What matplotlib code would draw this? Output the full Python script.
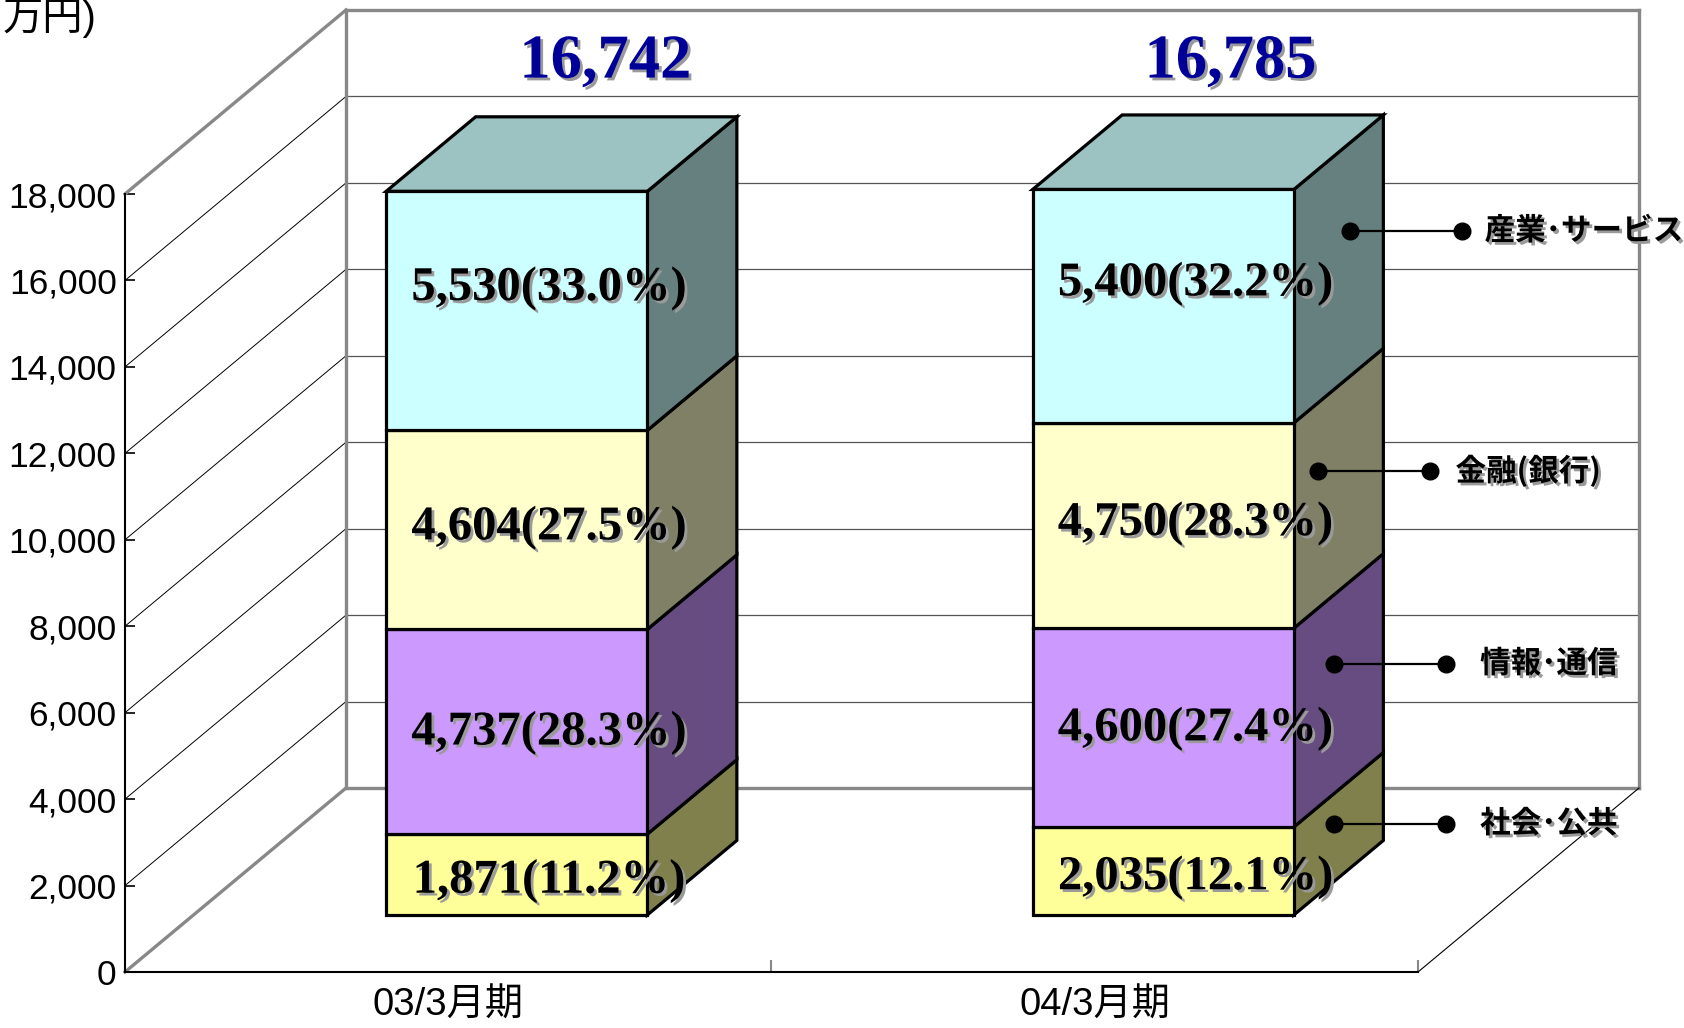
import matplotlib
matplotlib.use('Agg')
import matplotlib.pyplot as plt
import matplotlib.patheffects as pe
from matplotlib.patches import Polygon
from matplotlib import font_manager as fm
from matplotlib.ticker import FuncFormatter

# ---------------- data ----------------
categories = ['03/3月期', '04/3月期']
legend_labels = ['社会･公共', '情報･通信', '金融(銀行)', '産業･サービス']
shakai = [1871, 2035]
joho = [4737, 4600]
kinyu = [4604, 4750]
sangyo = [5530, 5400]
shakai_pct = [11.2, 12.1]
joho_pct = [28.3, 27.4]
kinyu_pct = [27.5, 28.3]
sangyo_pct = [33.0, 32.2]
totals = [16742, 16785]
y_ticks = [0, 2000, 4000, 6000, 8000, 10000, 12000, 14000, 16000, 18000]
unit_label = '万円)'

series = [shakai, joho, kinyu, sangyo]
pcts = [shakai_pct, joho_pct, kinyu_pct, sangyo_pct]

# ---------------- style ----------------
front_colors = ['#FFFF99', '#CC99FF', '#FFFFCC', '#CCFFFF']
side_colors = ['#80804C', '#664C80', '#808066', '#668080']
top_color = '#9CC2C2'


def has_font(name):
    try:
        fm.findfont(fm.FontProperties(family=name), fallback_to_default=False)
        return True
    except Exception:
        return False


if has_font('Liberation Sans Narrow'):
    narrow, tick_size, cat_size = 'Liberation Sans Narrow', 29, 29
else:
    narrow, tick_size, cat_size = 'Liberation Sans', 25.5, 27.5
cjk = 'Noto Sans CJK JP'
serif = 'Liberation Serif'

W, H = 1684, 1028
fig = plt.figure(figsize=(W / 100, H / 100), dpi=100)
fig.patch.set_facecolor('white')

# front plane of the 3D box in pixel coordinates
px_left, px_right, px_top, px_bot = 125, 1418, 194, 972
ax = fig.add_axes([px_left / W, 1 - px_bot / H, (px_right - px_left) / W, (px_bot - px_top) / H])
ax.set_xlim(0, 2)
ax.set_ylim(0, 18000)
ax.set_facecolor('none')

px_per_x = (px_right - px_left) / 2.0
px_per_v = (px_bot - px_top) / 18000.0
DX = 221 / px_per_x       # full depth offset in x units
DY = 184 / px_per_v       # full depth offset in value units
D1, D2 = 0.31, 0.715      # bar front / back depth fractions
BW = 0.404                # bar width in category units

gray = '#888888'
kw = dict(clip_on=False)

# walls: gridlines on back wall and left wall
for v in y_ticks[1:-1]:
    ax.plot([DX, 2 + DX], [v + DY, v + DY], color='#555555', lw=0.9, zorder=1, **kw)
    ax.plot([0, DX], [v, v + DY], color='black', lw=0.7, zorder=1, **kw)
# frame
ax.plot([DX, DX], [DY, 18000 + DY], color=gray, lw=2.4, zorder=2, **kw)
ax.plot([2 + DX, 2 + DX], [DY, 18000 + DY], color=gray, lw=2.4, zorder=2, **kw)
ax.plot([DX, 2 + DX], [18000 + DY, 18000 + DY], color=gray, lw=2.4, zorder=2, **kw)
ax.plot([0, DX], [18000, 18000 + DY], color=gray, lw=2.4, zorder=2, **kw)
ax.plot([0, DX], [0, DY], color=gray, lw=2.4, zorder=2, **kw)
ax.plot([DX, 2 + DX], [DY, DY], color=gray, lw=2.4, zorder=2, **kw)
ax.plot([2, 2 + DX], [0, DY], color='black', lw=0.8, zorder=2, **kw)

# axes spines / ticks
for s in ['top', 'right']:
    ax.spines[s].set_visible(False)
for s in ['left', 'bottom']:
    ax.spines[s].set_color('black')
    ax.spines[s].set_linewidth(1.5)
ax.set_yticks(y_ticks)
ax.yaxis.set_major_formatter(FuncFormatter(lambda v, p: f'{int(v):,}'))
ax.tick_params(axis='y', direction='in', length=7, width=1.2, pad=6,
               labelsize=tick_size)
for lab in ax.get_yticklabels():
    lab.set_fontfamily([narrow, cjk])
ax.set_xticks([0.5, 1.5])
ax.set_xticklabels(categories, fontsize=cat_size, fontfamily=[narrow, cjk])
ax.tick_params(axis='x', which='major', length=0, pad=11)
ax.set_xticks([1, 2], minor=True)
ax.tick_params(axis='x', which='minor', direction='in', length=9, width=1.5, color=gray)

shadow = [pe.withSimplePatchShadow(offset=(2, -2), shadow_rgbFace='#9a9a9a', alpha=1.0)]

# bars
label_offsets = [-150, -25, 50, 520]
total_dx = [0.243, 0.210]
for i in range(len(categories)):
    c = i + 0.5
    xl, xr = c - BW / 2, c + BW / 2
    bottom = 0
    for s, vals in enumerate(series):
        v = vals[i]
        top = bottom + v
        front = Polygon([(xl + D1 * DX, bottom + D1 * DY), (xr + D1 * DX, bottom + D1 * DY),
                         (xr + D1 * DX, top + D1 * DY), (xl + D1 * DX, top + D1 * DY)],
                        closed=True, facecolor=front_colors[s], edgecolor='black',
                        lw=2.3, zorder=5, joinstyle='miter', clip_on=False)
        side = Polygon([(xr + D1 * DX, bottom + D1 * DY), (xr + D2 * DX, bottom + D2 * DY),
                        (xr + D2 * DX, top + D2 * DY), (xr + D1 * DX, top + D1 * DY)],
                       closed=True, facecolor=side_colors[s], edgecolor='black',
                       lw=2.3, zorder=4, joinstyle='miter', clip_on=False)
        ax.add_patch(side)
        ax.add_patch(front)
        if s == len(series) - 1:
            topf = Polygon([(xl + D1 * DX, top + D1 * DY), (xr + D1 * DX, top + D1 * DY),
                            (xr + D2 * DX, top + D2 * DY), (xl + D2 * DX, top + D2 * DY)],
                           closed=True, facecolor=top_color, edgecolor='black',
                           lw=2.3, zorder=4, joinstyle='miter', clip_on=False)
            ax.add_patch(topf)
        ax.text(c + D1 * DX + 0.05, bottom + v / 2 + D1 * DY + label_offsets[s],
                f'{v:,}({pcts[s][i]:.1f}%)', ha='center', va='center',
                fontsize=35, fontweight='bold', fontfamily=serif, color='black',
                zorder=10, path_effects=shadow, clip_on=False)
        bottom = top
    # total label
    ax.text(c + total_dx[i], 21040, f'{totals[i]:,}', ha='center', va='center',
            fontsize=45, fontweight='bold', fontfamily=serif, color='#000099',
            zorder=10, path_effects=shadow, clip_on=False)

# legend annotations (dots on the side face of the second bar)
leg_y = [3431, 7133, 11580, 17146]
leg_dot1 = [1.870, 1.870, 1.845, 1.895]
leg_dot2 = [2.043, 2.043, 2.018, 2.068]
leg_text = [2.096, 2.096, 2.058, 2.103]
for s in range(len(legend_labels)):
    ax.plot([leg_dot1[s], leg_dot2[s]], [leg_y[s], leg_y[s]], color='black', lw=1.6,
            marker='o', markersize=12, markerfacecolor='black', zorder=11, clip_on=False)
    ax.text(leg_text[s], leg_y[s], legend_labels[s], ha='left', va='center',
            fontsize=22, fontweight='bold', fontfamily=[cjk], color='black',
            zorder=11, path_effects=shadow, clip_on=False)

# unit label in the top-left corner (only its right part is shown in the reference)
fig.text(3 / W, 1 - 18 / H, unit_label, ha='left', va='center', fontsize=29,
         fontfamily=[narrow, cjk], color='black')

fig.savefig('out.png', dpi=100, facecolor='white')
